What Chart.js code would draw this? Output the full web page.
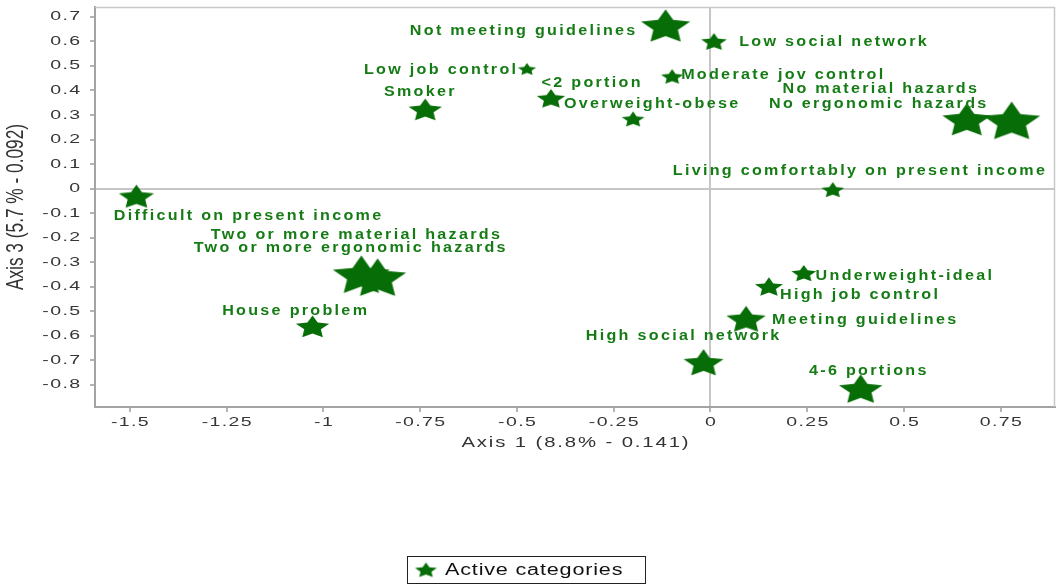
<!DOCTYPE html>
<html>
<head>
<meta charset="utf-8">
<title>Correspondence analysis – Axis 1 vs Axis 3</title>
<script src="https://cdn.jsdelivr.net/npm/chart.js@4.4.1/dist/chart.umd.min.js"></script>
<style>
  html, body { margin: 0; padding: 0; background: #ffffff; }
  #wrap { position: relative; width: 1059px; height: 584px; }
</style>
</head>
<body>
<div id="wrap"><canvas id="chart"></canvas></div>
<script>
// ---- data -------------------------------------------------------------
const categories = [
  'Not meeting guidelines', 'Low social network', 'Low job control', '<2 portion',
  'Moderate jov control', 'Smoker', 'Overweight-obese', 'No material hazards',
  'No ergonomic hazards', 'Living comfortably on present income', 'Difficult on present income',
  'Two or more material hazards', 'Two or more ergonomic hazards', 'House problem',
  'Underweight-ideal', 'High job control', 'Meeting guidelines', 'High social network', '4-6 portions'
];
const axis1 = [-0.116, 0.009, -0.474, -0.412, -0.099, -0.737, -0.200, 0.662, 0.778, 0.316, -1.483,
               -0.902, -0.860, -1.028, 0.241, 0.151, 0.092, -0.018, 0.388];
const axis3 = [0.658, 0.596, 0.485, 0.364, 0.454, 0.318, 0.281, 0.275, 0.270, -0.007, -0.036,
               -0.357, -0.369, -0.566, -0.348, -0.403, -0.536, -0.713, -0.821];
// relative weight of each category (drawn as star size)
const weight = [25.8, 13.5, 9.6, 14.9, 11.7, 17.5, 12.0, 25.6, 30.0, 12.0, 18.5,
                30.0, 30.0, 17.5, 13.0, 14.7, 20.7, 21.0, 22.8];
const xTicks = [-1.5, -1.25, -1, -0.75, -0.5, -0.25, 0, 0.25, 0.5, 0.75];
const yTicks = [0.7, 0.6, 0.5, 0.4, 0.3, 0.2, 0.1, 0, -0.1, -0.2, -0.3, -0.4, -0.5, -0.6, -0.7, -0.8];
const xTitle = 'Axis 1 (8.8% - 0.141)';
const yTitle = 'Axis 3 (5.7 % - 0.092)';
const seriesName = 'Active categories';

// ---- label placement (pixel offsets of each label centre from its star) ----
const labelOffset = [
  [-143, 4], [119, 0], [-87, 0.5], [40, -16], [110, -2], [-6, -18.5], [18, -15.5], [-87, -32],
  [-134, -18], [26, -19], [111, 19], [-6, -41], [-28, -31], [-18, -16], [100, 2.5], [90, 8],
  [118, 0], [-21, -27], [7, -18.5]
];

// ---- styling -------------------------------------------------------------
const STAR_COLOR = '#076d07';
const LABEL_COLOR = '#157c15';
const STAR_ASPECT = 1.45;
const STAR_INNER = 0.5;

function starCanvas(rx, color) {
  const ry = rx / STAR_ASPECT;
  const c = document.createElement('canvas');
  c.width = Math.ceil(rx * 2) + 2;
  c.height = Math.ceil(ry * 2) + 2;
  const g = c.getContext('2d');
  g.translate(c.width / 2, c.height / 2);
  g.beginPath();
  for (let k = 0; k < 10; k++) {
    const a = -Math.PI / 2 + k * Math.PI / 5;
    const r = k % 2 ? STAR_INNER : 1;
    g.lineTo(Math.cos(a) * r * rx, Math.sin(a) * r * ry);
  }
  g.closePath();
  g.fillStyle = color;
  g.fill();
  return c;
}
const starImages = weight.map(w => starCanvas(w, STAR_COLOR));

// text with horizontal stretch and tracking
function stretchedText(ctx, text, x, y, o) {
  ctx.save();
  ctx.font = o.font;
  ctx.letterSpacing = '0px';
  const n = text.length;
  const w = ctx.measureText(text).width + o.spacing * (n - 1);
  ctx.letterSpacing = o.spacing + 'px';
  ctx.fillStyle = o.color;
  ctx.textBaseline = 'middle';
  ctx.textAlign = 'left';
  ctx.translate(x, y);
  if (o.rotate) ctx.rotate(o.rotate);
  ctx.scale(o.sx, o.sy || 1);
  const start = o.align === 'right' ? -w : o.align === 'left' ? 0 : -w / 2;
  ctx.fillText(text, start, 0);
  ctx.restore();
}

const TICK_FONT = { font: '13px "Liberation Sans", Arial, sans-serif', color: '#363636', sx: 1.5, spacing: 0.9 };
const LABEL_FONT = { font: 'bold 14px "Liberation Sans", Arial, sans-serif', color: LABEL_COLOR, sx: 1.15, spacing: 2.0 };

const decorations = {
  id: 'decorations',
  beforeDatasetsDraw(chart) {
    const { ctx, chartArea: a } = chart;
    ctx.save();
    ctx.strokeStyle = '#c8c8c8';
    ctx.lineWidth = 1.5;
    ctx.beginPath();
    ctx.moveTo(a.left, a.top + 0.5);
    ctx.lineTo(a.right - 0.5, a.top + 0.5);
    ctx.lineTo(a.right - 0.5, a.bottom);
    ctx.stroke();
    ctx.restore();
  },
  afterDatasetsDraw(chart) {
    const { ctx, chartArea: a, scales } = chart;
    // tick labels
    scales.x.ticks.forEach(t => {
      const px = scales.x.getPixelForValue(t.value);
      stretchedText(ctx, String(+t.value.toFixed(2)), px, a.bottom + 15, { ...TICK_FONT, align: 'center' });
    });
    scales.y.ticks.forEach(t => {
      const py = scales.y.getPixelForValue(t.value);
      stretchedText(ctx, String(+t.value.toFixed(2)), a.left - 15, py, { ...TICK_FONT, align: 'right' });
    });
    // axis titles
    stretchedText(ctx, xTitle, (a.left + a.right) / 2, a.bottom + 36,
      { font: '14px "Liberation Sans", Arial, sans-serif', color: '#333333', sx: 1.45, spacing: 1.3, align: 'center' });
    stretchedText(ctx, yTitle, a.left - 78, (a.top + a.bottom) / 2,
      { font: '18px "Liberation Sans", Arial, sans-serif', color: '#333333', sx: 0.96, sy: 1.3, spacing: 0,
        rotate: -Math.PI / 2, align: 'center' });
    // category labels
    const meta = chart.getDatasetMeta(0);
    meta.data.forEach((pt, i) => {
      const [dx, dy] = labelOffset[i];
      stretchedText(ctx, categories[i], pt.x + dx, pt.y + dy, { ...LABEL_FONT, align: 'center' });
    });
  },
  afterDraw(chart) {
    const { ctx } = chart;
    // legend box
    ctx.save();
    ctx.strokeStyle = '#222222';
    ctx.lineWidth = 1;
    ctx.strokeRect(407.5, 556.5, 238, 27);
    const img = starCanvas(11.5, STAR_COLOR);
    ctx.drawImage(img, 426 - img.width / 2, 570.5 - img.height / 2);
    ctx.restore();
    stretchedText(ctx, chart.data.datasets[0].label, 445, 571,
      { font: '16px "Liberation Sans", Arial, sans-serif', color: '#111111', sx: 1.35, spacing: 0.6, align: 'left' });
  }
};

const gridFor = () => ({
  color: c => (c.tick && c.tick.value === 0) ? '#c6c6c6' : 'rgba(0,0,0,0)',
  lineWidth: 2,
  drawTicks: true,
  tickLength: 5,
  tickColor: '#9a9a9a',
  tickWidth: 1.5
});

new Chart(document.getElementById('chart'), {
  type: 'scatter',
  data: {
    datasets: [{
      label: seriesName,
      data: axis1.map((x, i) => ({ x, y: axis3[i] })),
      pointStyle: c => starImages[c.dataIndex],
      pointRadius: 3,
      pointHoverRadius: 3
    }]
  },
  options: {
    responsive: true,
    maintainAspectRatio: false,
    animation: false,
    events: [],
    layout: { padding: { left: 90, top: 7, right: 3, bottom: 172 } },
    plugins: { legend: { display: false }, tooltip: { enabled: false } },
    scales: {
      x: {
        type: 'linear', min: -1.59, max: 0.89,
        afterBuildTicks: s => { s.ticks = xTicks.map(v => ({ value: v })); },
        ticks: { display: false },
        grid: gridFor(),
        border: { display: true, color: '#a3a3a3', width: 2 }
      },
      y: {
        type: 'linear', min: -0.89, max: 0.74,
        afterBuildTicks: s => { s.ticks = yTicks.map(v => ({ value: v })); },
        ticks: { display: false },
        grid: gridFor(),
        border: { display: true, color: '#a3a3a3', width: 2 }
      }
    }
  },
  plugins: [decorations]
});
</script>
</body>
</html>
